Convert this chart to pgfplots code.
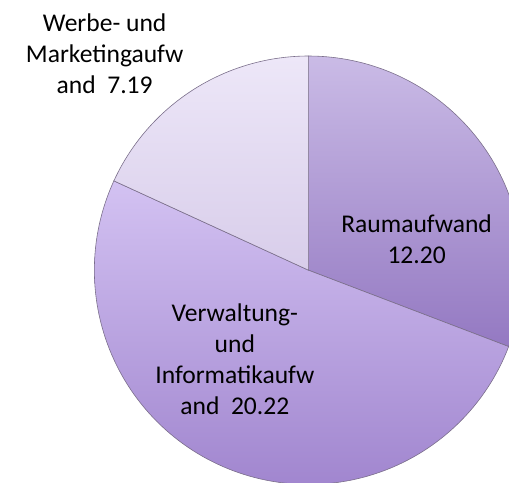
\documentclass[border=0pt]{standalone}
\usepackage{pgfplots}
\pgfplotsset{compat=1.18}
\usepackage{pgfplotstable}
\usepackage{fontspec}
\setmainfont{Carlito}
\definecolor{raumT}{HTML}{CABBE6}
\definecolor{raumB}{HTML}{9479C2}
\definecolor{verwT}{HTML}{D3C2F2}
\definecolor{verwB}{HTML}{A186CF}
\definecolor{werbT}{HTML}{EDE7F8}
\definecolor{werbB}{HTML}{D8CDEA}
\definecolor{edgec}{HTML}{7A6E8A}
\pgfplotstableread{
label value
Raum 12.20
Verw 20.22
Werbe 7.19
}\piedata
\tikzset{lbl/.style={font=\fontsize{26bp}{31.5bp}\selectfont, align=center, text=black, inner sep=0pt}}
\begin{document}
\pgfplotstablegetelem{0}{value}\of\piedata\let\vA\pgfplotsretval
\pgfplotstablegetelem{1}{value}\of\piedata\let\vB\pgfplotsretval
\pgfplotstablegetelem{2}{value}\of\piedata\let\vC\pgfplotsretval
\pgfmathsetmacro\tot{\vA+\vB+\vC}
\pgfmathsetmacro\aA{90-360*\vA/\tot}
\pgfmathsetmacro\aB{\aA-360*\vB/\tot}
\pgfmathsetmacro\aC{\aB-360*\vC/\tot}
\begin{tikzpicture}
\useasboundingbox (0,0) rectangle (509bp,491bp);
\begin{axis}[
  at={(0,0)}, anchor=south west,
  width=509bp, height=491bp, scale only axis,
  xmin=-305, xmax=204, ymin=-216, ymax=275,
  hide axis, clip=true,
]
\addplot[draw=edgec, line width=0.6bp, top color=raumT, bottom color=raumB,
  domain=\aA:90, samples=90, data cs=polar] ({x},{218}) -- (axis cs:0,0) -- cycle;
\addplot[draw=edgec, line width=0.6bp, top color=verwT, bottom color=verwB,
  domain=\aB:\aA, samples=120, data cs=polar] ({x},{218}) -- (axis cs:0,0) -- cycle;
\addplot[draw=edgec, line width=0.6bp, top color=werbT, bottom color=werbB,
  domain=\aC:\aB, samples=60, data cs=polar] ({x},{218}) -- (axis cs:0,0) -- cycle;
\node[lbl] at (axis cs:110,32) {Raumaufwand\\12.20};
\node[lbl] at (axis cs:-75,-91) {Verwaltung-\\und\\Informatikaufw\\and~~20.22};
\node[lbl] at (axis cs:-207.5,220) {Werbe- und\\Marketingaufw\\and~~7.19};
\end{axis}
\end{tikzpicture}
\end{document}
